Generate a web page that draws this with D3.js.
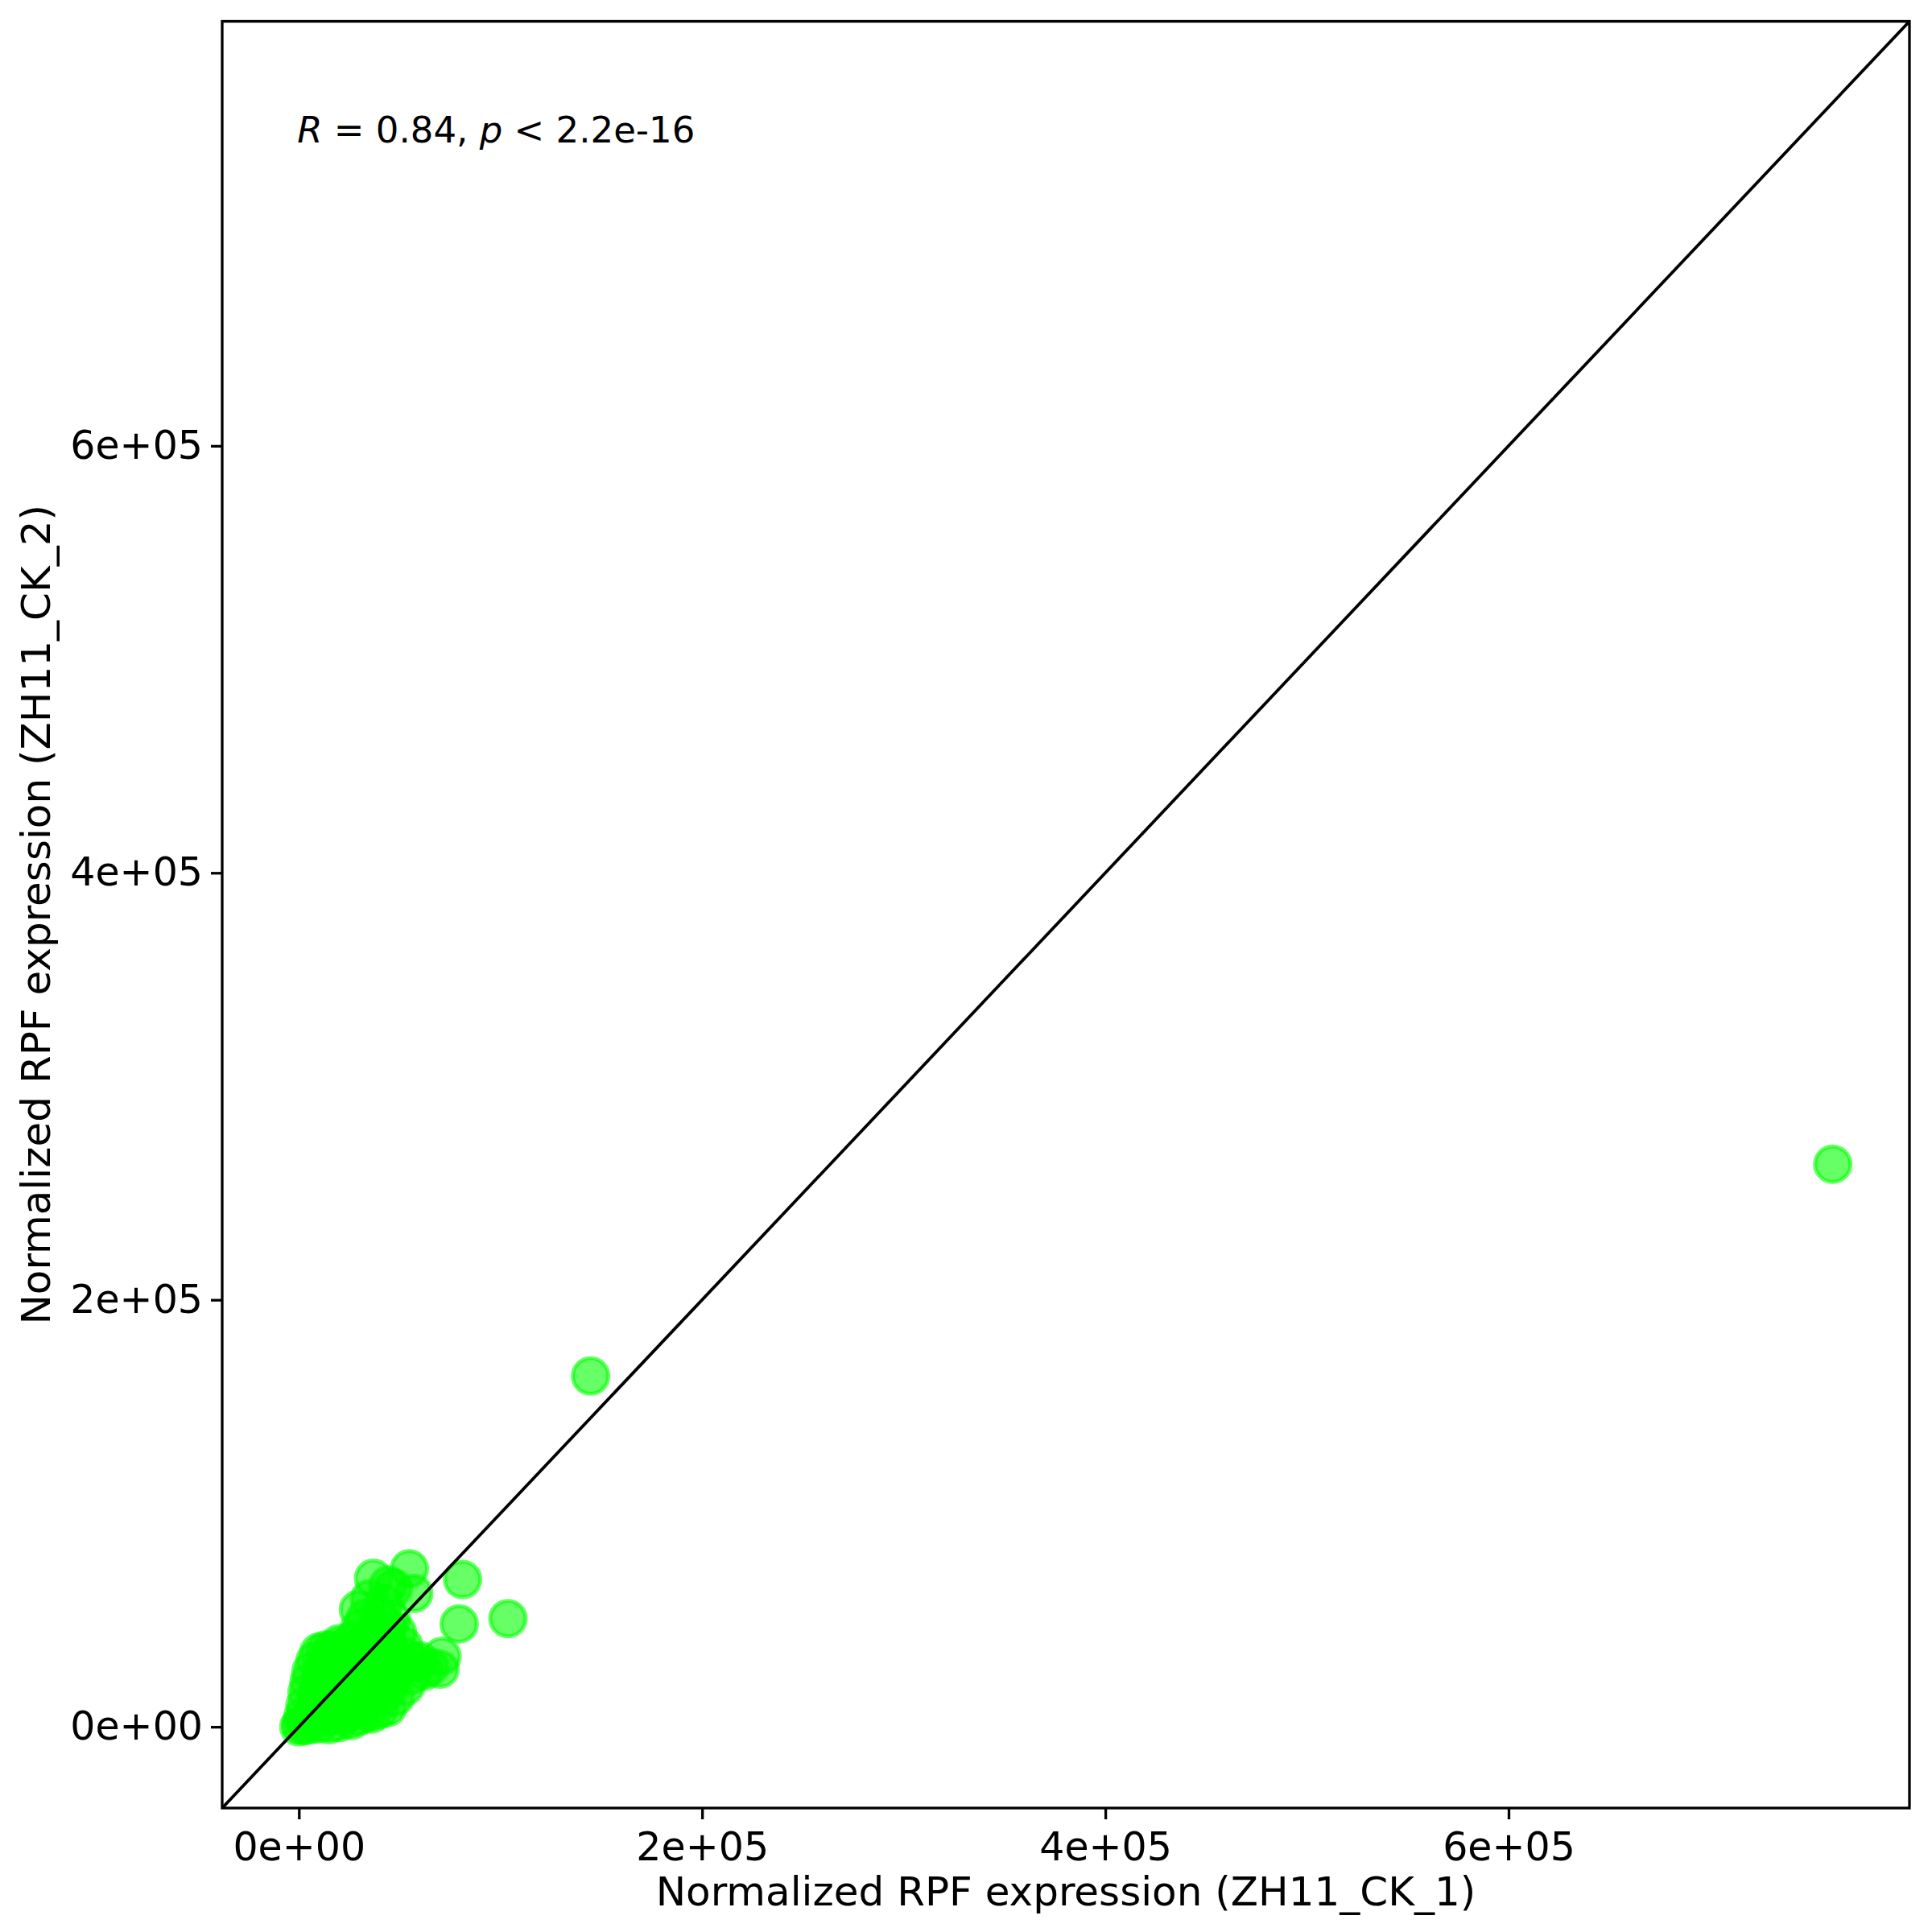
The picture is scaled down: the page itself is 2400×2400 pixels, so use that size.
<!DOCTYPE html>
<html><head><meta charset="utf-8">
<script src="https://cdn.jsdelivr.net/npm/d3@7"></script>
<style>body{margin:0;background:#fff}</style>
</head><body>
<script>
// Normalized RPF expression values (x: ZH11_CK_1, y: ZH11_CK_2)
const xValues = [
  0,1000,3000,6000,10000,15000,20000,26000,
  2000,6000,10000,15000,22000,30000,36000,34000,
  3000,8000,13000,18000,25000,32000,40000,44000,
  4000,9000,15000,21000,28000,35000,42000,48000,
  5000,10000,16000,23000,30000,37000,45000,53000,
  6000,12000,18000,26000,33000,40000,47000,56000,62000,
  8000,13000,20000,28000,35000,42000,50000,58000,65000,70000,71000,
  10000,13000,16000,20000,24000,30000,38000,45000,53000,60000,52000,
  20000,27000,34000,41000,49000,44000,
  30000,37000,44000,
  33000,40000,46000,
  29500,35000,42000,37000,44300,57000,54800,47000,
  81200,79500,103700,144700,760800
];
const yValues = [
  0,1000,500,1000,1500,1000,2000,3000,
  5000,4000,6000,5000,5000,5000,6000,7000,
  10000,9000,11000,10000,9000,10000,8000,9000,
  16000,15000,14000,16000,14000,13000,15000,14000,
  21000,20000,22000,20000,19000,21000,19000,19000,
  26000,25000,27000,25000,24000,26000,23000,24000,26000,
  31000,30000,32000,30000,29000,31000,29000,30000,28000,27000,33000,
  35000,36000,36000,37000,34000,36000,35000,36000,33000,31000,38000,
  39000,41000,40000,42000,44000,40000,
  46000,45000,47000,
  51000,52000,50000,
  55000,60000,58000,69600,66500,62500,74000,65000,
  69000,48200,50700,164300,263500
];
const tickValues = [0, 200000, 400000, 600000];
const tickLabels = ["0e+00", "2e+05", "4e+05", "6e+05"];
const xTitle = "Normalized RPF expression (ZH11_CK_1)";
const yTitle = "Normalized RPF expression (ZH11_CK_2)";
const corR = "0.84", corP = "2.2e-16";

const W = 2400, H = 2400;
const panel = {left: 276, right: 2372, top: 26.5, bottom: 2246};
const FONT = "DejaVu Sans, Liberation Sans, sans-serif";

const points = xValues.map((x, i) => ({x, y: yValues[i]}));
const allVals = xValues.concat(yValues);
const lo = d3.min(allVals), hi = d3.max(allVals);
const pad = (hi - lo) * 0.05;
const dom = [lo - pad, hi + pad];

const xScale = d3.scaleLinear().domain(dom).range([panel.left, panel.right]);
const yScale = d3.scaleLinear().domain(dom).range([panel.bottom, panel.top]);

const svg = d3.select("body").append("svg")
  .attr("width", W).attr("height", H)
  .style("font-family", FONT);

svg.append("rect").attr("width", W).attr("height", H).attr("fill", "#fff");

svg.append("clipPath").attr("id", "clip")
  .append("rect")
  .attr("x", panel.left).attr("y", panel.top)
  .attr("width", panel.right - panel.left).attr("height", panel.bottom - panel.top);

const plot = svg.append("g").attr("clip-path", "url(#clip)");

plot.selectAll("circle").data(points).enter().append("circle")
  .attr("cx", d => xScale(d.x))
  .attr("cy", d => yScale(d.y))
  .attr("r", 22)
  .attr("fill", "#00FF00").attr("fill-opacity", 0.6)
  .attr("stroke", "#00FF00").attr("stroke-opacity", 0.6)
  .attr("stroke-width", 5);

// y = x reference line
plot.append("line")
  .attr("x1", xScale(dom[0])).attr("y1", yScale(dom[0]))
  .attr("x2", xScale(dom[1])).attr("y2", yScale(dom[1]))
  .attr("stroke", "#000").attr("stroke-width", 3.8);

// panel border
svg.append("rect")
  .attr("x", panel.left).attr("y", panel.top)
  .attr("width", panel.right - panel.left).attr("height", panel.bottom - panel.top)
  .attr("fill", "none").attr("stroke", "#000").attr("stroke-width", 3.3);

// axes
const xAxis = d3.axisBottom(xScale).tickValues(tickValues)
  .tickFormat((d, i) => tickLabels[i]).tickSizeOuter(0).tickSize(14).tickPadding(16);
const yAxis = d3.axisLeft(yScale).tickValues(tickValues)
  .tickFormat((d, i) => tickLabels[i]).tickSizeOuter(0).tickSize(14).tickPadding(10);

const gx = svg.append("g").attr("transform", `translate(0,${panel.bottom})`).call(xAxis);
const gy = svg.append("g").attr("transform", `translate(${panel.left},0)`).call(yAxis);
[gx, gy].forEach(g => {
  g.select(".domain").remove();
  g.selectAll(".tick line").attr("stroke", "#000").attr("stroke-width", 3.3);
  g.selectAll(".tick text").attr("fill", "#000")
    .style("font-family", FONT).style("font-size", "49px");
});

// axis titles
svg.append("text")
  .attr("x", (panel.left + panel.right) / 2).attr("y", 2367)
  .attr("text-anchor", "middle").style("font-size", "50px").attr("fill", "#000")
  .text(xTitle);
svg.append("text")
  .attr("transform", `translate(62,${(panel.top + panel.bottom) / 2}) rotate(-90)`)
  .attr("text-anchor", "middle").style("font-size", "50px").attr("fill", "#000")
  .text(yTitle);

// correlation annotation
const ann = svg.append("text")
  .attr("x", xScale(0) - 2).attr("y", yScale(hi) + 50)
  .style("font-size", "45px").attr("fill", "#000");
ann.append("tspan").style("font-style", "italic").text("R");
ann.append("tspan").text(` = ${corR}, `);
ann.append("tspan").style("font-style", "italic").text("p");
ann.append("tspan").text(` < ${corP}`);
</script>
</body></html>
